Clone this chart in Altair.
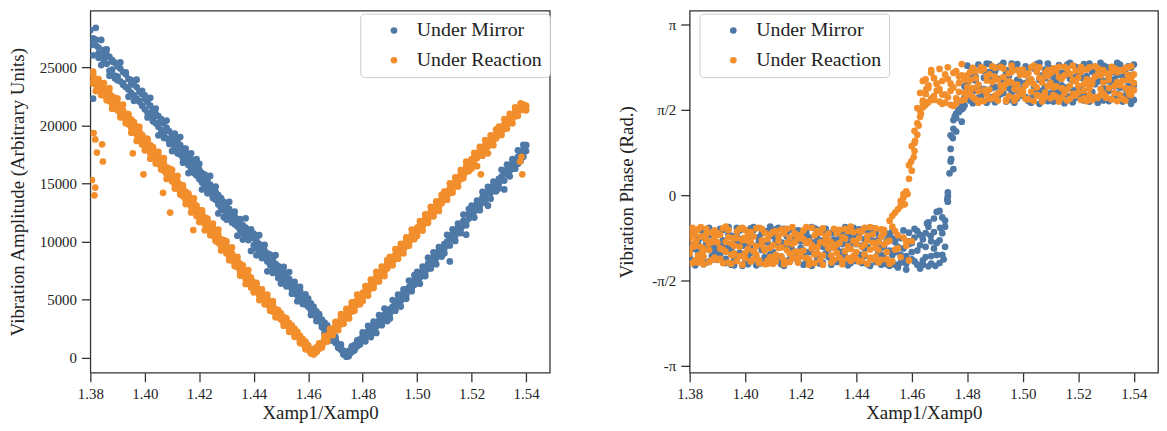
import altair as alt
import pandas as pd

SERIES = ["Under Mirror", "Under Reaction"]
COLORS = ["#4e79a7", "#f28e2b"]
FONT = "Liberation Serif"

X = [
    1.380, 1.381, 1.382, 1.383, 1.384, 1.385, 1.386, 1.387, 1.388, 1.389,
    1.390, 1.391, 1.392, 1.393, 1.394, 1.395, 1.396, 1.397, 1.398, 1.399,
    1.400, 1.401, 1.402, 1.403, 1.404, 1.405, 1.406, 1.407, 1.408, 1.409,
    1.410, 1.411, 1.412, 1.413, 1.414, 1.415, 1.416, 1.417, 1.418, 1.419,
    1.420, 1.421, 1.422, 1.423, 1.424, 1.425, 1.426, 1.427, 1.428, 1.429,
    1.430, 1.431, 1.432, 1.433, 1.434, 1.435, 1.436, 1.437, 1.438, 1.439,
    1.440, 1.441, 1.442, 1.443, 1.444, 1.445, 1.446, 1.447, 1.448, 1.449,
    1.450, 1.451, 1.452, 1.453, 1.454, 1.455, 1.456, 1.457, 1.458, 1.459,
    1.460, 1.461, 1.462, 1.463, 1.464, 1.465, 1.466, 1.467, 1.468, 1.469,
    1.470, 1.471, 1.472, 1.473, 1.474, 1.475, 1.476, 1.477, 1.478, 1.479,
    1.480, 1.481, 1.482, 1.483, 1.484, 1.485, 1.486, 1.487, 1.488, 1.489,
    1.490, 1.491, 1.492, 1.493, 1.494, 1.495, 1.496, 1.497, 1.498, 1.499,
    1.500, 1.501, 1.502, 1.503, 1.504, 1.505, 1.506, 1.507, 1.508, 1.509,
    1.510, 1.511, 1.512, 1.513, 1.514, 1.515, 1.516, 1.517, 1.518, 1.519,
    1.520, 1.521, 1.522, 1.523, 1.524, 1.525, 1.526, 1.527, 1.528, 1.529,
    1.530, 1.531, 1.532, 1.533, 1.534, 1.535, 1.536, 1.537, 1.538, 1.539, 1.540,
]

# ---- Vibration amplitude (left panel), three sweeps per series ----
MIRROR_AMP_A = [
    26900, 27500, 28400, 26700, 26100, 26500, 25300, 25900, 24800, 25400,
    24200, 24900, 23500, 24400, 23100, 23600, 22600, 23300, 22100, 22700,
    21400, 22000, 20800, 21300, 20200, 20800, 19600, 20200, 18900, 19500,
    18400, 18900, 17800, 18300, 17200, 17700, 16600, 17100, 16000, 16500,
    15400, 15900, 14800, 15300, 14200, 14600, 13600, 14000, 12900, 13400,
    12300, 12800, 11800, 12200, 11300, 11700, 10700, 11200, 10200, 10600,
    9700, 10100, 9100, 9500, 8600, 9000, 8000, 8500, 7500, 7900,
    7000, 7400, 6500, 6800, 5900, 6300, 5400, 5800, 4900, 5200,
    4400, 4700, 3800, 4000, 3200, 3300, 2500, 2800, 1900, 2100,
    1300, 1000, 700, 300, 100, 600, 500, 1100, 1000, 1600,
    1500, 2100, 2000, 2600, 2400, 3000, 2900, 3500, 3300, 3900,
    3800, 4400, 4300, 5000, 4900, 5600, 5400, 6100, 6000, 6700,
    6600, 7200, 7100, 7800, 7700, 8400, 8200, 8900, 8800, 9500,
    9400, 10000, 8300, 10600, 10500, 11200, 11100, 11800, 11700, 12400,
    12300, 12900, 12800, 13500, 13400, 14000, 13100, 14600, 14500, 15100,
    15000, 15600, 14500, 16200, 16100, 16800, 16600, 17300, 17100, 17900, 18300,
]
MIRROR_AMP_B = [
    27200, 22300, 26900, 26200, 25200, 25700, 26100, 24700, 25500, 24300,
    25100, 23800, 24600, 23300, 24000, 22800, 23500, 22300, 22900, 21700,
    22300, 21100, 21700, 20500, 21000, 19900, 20400, 19300, 19800, 18700,
    19200, 18100, 18600, 17500, 18000, 16900, 17300, 16300, 16800, 15700,
    16200, 15100, 15500, 14500, 14900, 13900, 14300, 13200, 13700, 12700,
    13100, 12100, 12500, 11500, 11900, 11000, 11400, 10500, 10900, 9200,
    10300, 9400, 9800, 8900, 9200, 8300, 8700, 7800, 8100, 7200,
    7600, 6700, 7000, 6200, 6500, 5600, 5900, 5100, 5400, 4600,
    4800, 4100, 4200, 3500, 3600, 2900, 2100, 2300, 1500, 1700,
    1600, 1200, 900, 600, 400, 300, 900, 800, 1400, 1300,
    1900, 1800, 2300, 2200, 2800, 2700, 3200, 3100, 3700, 3600,
    4200, 4100, 4700, 4600, 5300, 5200, 5900, 5800, 6400, 6300,
    7000, 6900, 7500, 7400, 8100, 8000, 8700, 8600, 9200, 9100,
    9800, 9700, 10300, 10200, 10900, 10800, 11500, 11400, 10600, 12000,
    12700, 12600, 13200, 13100, 13800, 13700, 14300, 14200, 14800, 14700,
    15400, 15300, 15900, 15800, 16500, 16300, 17000, 16700, 17600, 17300, 17800,
]
MIRROR_AMP_C = [
    28200, 26040, 27380, 25820, 27360, 25500, 26540, 24280, 25620, 24060,
    23900, 25420, 23640, 24560, 22480, 23900, 22120, 23940, 22060, 22980,
    22600, 20690, 22380, 20370, 21460, 19150, 20540, 18930, 20420, 18410,
    17800, 19300, 17600, 19000, 16800, 18000, 15900, 17600, 15900, 17100,
    16700, 14490, 15780, 14170, 15660, 13750, 14740, 12430, 13720, 12110,
    11900, 13430, 11660, 12590, 10520, 11950, 10180, 12010, 10140, 11070,
    10700, 8830, 10560, 8590, 9720, 7450, 8880, 7310, 8840, 6870,
    6400, 7830, 6160, 7390, 5520, 6550, 4880, 6110, 4640, 5470,
    5100, 3690, 4380, 3170, 3760, 2650, 3040, 2130, 2420, 1510,
    1800, 880, 1160, 340, 420, 250, 1000, 650, 1500, 1150,
    2200, 1430, 2760, 1790, 3120, 2150, 3680, 2810, 4240, 3170,
    3400, 4980, 4060, 5440, 4420, 5900, 5080, 6660, 5740, 7120,
    7400, 6380, 7860, 7040, 8620, 7700, 9080, 8060, 9540, 8720,
    9000, 10590, 9680, 11070, 10060, 11550, 10740, 12330, 11420, 12810,
    13100, 12070, 13540, 12710, 14280, 13350, 14720, 13690, 15160, 14330,
    14600, 16180, 15260, 16640, 15620, 17100, 16280, 17860, 16940, 18320, 18300,
]
REACTION_AMP_A = [
    24100, 24400, 23500, 23800, 22900, 23200, 22400, 22800, 21800, 22200,
    21300, 21700, 20700, 21000, 20100, 20500, 19400, 19900, 18800, 19200,
    18300, 18700, 17600, 18000, 17000, 17400, 16400, 16800, 15800, 16200,
    15200, 15600, 14600, 14900, 13900, 14300, 13300, 13700, 12700, 13100,
    12100, 12500, 11500, 11800, 10900, 11200, 10200, 10600, 9600, 10000,
    9000, 9400, 8400, 8700, 7800, 8100, 7100, 7500, 6500, 6900,
    6000, 6300, 5400, 5700, 4900, 5100, 4300, 4600, 3800, 4000,
    3300, 3500, 2800, 3000, 2300, 2500, 1800, 1900, 1200, 1400,
    700, 400, 300, 900, 800, 1300, 1400, 1900, 2000, 2500,
    2400, 3000, 2900, 3600, 3500, 4200, 4000, 4800, 4600, 5300,
    5200, 5800, 5700, 6400, 6300, 7000, 6800, 7500, 7400, 8100,
    8000, 8600, 8500, 9200, 9100, 9800, 9600, 10300, 10200, 10900,
    10800, 11400, 11300, 12000, 11900, 12600, 12400, 13100, 13000, 13700,
    13600, 14300, 14200, 14900, 14800, 15500, 15400, 16100, 16000, 16800,
    16700, 17300, 17200, 17800, 17700, 18300, 18200, 18800, 18700, 19300,
    19200, 19800, 19700, 20400, 20300, 20900, 20800, 21500, 21400, 21800, 21700,
]
REACTION_AMP_B = [
    24600, 23700, 24000, 23200, 23500, 22600, 23000, 22100, 22500, 21600,
    21900, 21000, 21300, 20400, 20700, 19800, 20100, 19200, 19500, 18500,
    18900, 18000, 18300, 17300, 17700, 16700, 17000, 16100, 16400, 15500,
    15800, 14900, 15200, 14200, 14600, 13600, 14000, 13000, 13300, 12400,
    12700, 11800, 12100, 11200, 11500, 10500, 10900, 9900, 10200, 9300,
    9600, 8700, 9000, 8100, 8400, 7400, 7800, 6800, 7100, 6300,
    6500, 5700, 5900, 5200, 5400, 4600, 4800, 4000, 4200, 3500,
    3600, 3000, 3100, 2500, 2600, 2000, 2100, 1400, 1500, 900,
    900, 700, 600, 500, 1100, 1100, 1700, 1600, 2300, 2200,
    2800, 2700, 3400, 3300, 3900, 3800, 4500, 4400, 5000, 4900,
    5600, 5500, 6100, 6000, 6700, 6600, 7300, 7200, 7800, 7700,
    8400, 8300, 8900, 8800, 9500, 9400, 10100, 9900, 10600, 10500,
    11200, 11100, 11700, 11600, 12300, 12200, 12900, 12700, 13400, 13300,
    14000, 13900, 14600, 14500, 15200, 15100, 15800, 15700, 16500, 16300,
    17100, 17000, 17600, 17500, 18100, 17900, 18600, 18400, 19100, 18900,
    19600, 19500, 20100, 20000, 20700, 20600, 21200, 21100, 21600, 21500, 21300,
]
REACTION_AMP_C = [
    23600, 24630, 22960, 23990, 22620, 23650, 22180, 23210, 21440, 22370,
    22300, 20700, 21790, 20190, 20980, 19380, 20280, 18670, 19870, 18360,
    17860, 18850, 17140, 18140, 16730, 17720, 16210, 17200, 15400, 16290,
    16180, 14570, 15660, 14060, 14850, 13240, 14130, 12520, 13720, 12210,
    11700, 12690, 10980, 11980, 10570, 11560, 10050, 11040, 9240, 10130,
    10020, 8410, 9500, 7900, 8690, 7080, 7970, 6360, 7560, 6050,
    5640, 6460, 4980, 5900, 4620, 5440, 4060, 4880, 3500, 4120,
    3840, 2770, 3410, 2240, 2780, 1810, 2240, 1280, 1610, 750,
    1080, 400, 750, 500, 1250, 900, 1900, 1400, 2500, 1950,
    3100, 2380, 3760, 2940, 4220, 3400, 4780, 4060, 5440, 4620,
    4900, 6180, 5360, 6740, 6020, 7400, 6580, 7860, 7040, 8420,
    8700, 7980, 9360, 8540, 9820, 9000, 10380, 9660, 11040, 10220,
    10500, 11780, 10960, 12340, 11620, 13000, 12180, 13460, 12640, 14020,
    14300, 13610, 15020, 14230, 15540, 14750, 16160, 15470, 16880, 16090,
    16300, 17650, 16500, 18150, 17400, 18750, 17600, 19150, 18300, 19650,
    19900, 19180, 20550, 19730, 21000, 20180, 21550, 20830, 21900, 21350, 21600,
]

# ---- Vibration phase (right panel), three sweeps per series ----
MIRROR_PHASE_A = [
    -0.92, -1.21, -0.66, -1.04, -0.78, -1.27, -0.85, -0.60, -1.12, -0.97,
    -0.69, -1.08, -0.83, -1.25, -0.59, -1.00, -1.19, -0.76, -0.90, -1.30,
    -1.23, -0.80, -1.06, -0.64, -0.93, -1.26, -0.70, -1.14, -0.86, -0.58,
    -0.75, -1.11, -0.91, -1.27, -0.62, -0.99, -1.18, -0.82, -0.68, -1.07,
    -0.97, -1.28, -0.73, -1.05, -0.87, -0.61, -1.16, -0.92, -1.24, -0.69,
    -1.14, -0.70, -0.96, -1.23, -0.80, -1.04, -0.59, -1.29, -0.88, -0.74,
    -0.68, -1.09, -1.25, -0.81, -0.95, -0.62, -1.17, -0.89, -1.03, -1.28,
    -0.94, -1.27, -0.72, -1.10, -0.86, -1.33, -0.79, -1.18, -1.37, -0.90,
    -1.05, -0.78, -1.28, -0.92, -1.20, -0.70, -1.31, -0.85, -0.43, -1.10,
    -0.29, -0.41, -0.47, -0.02, 0.62, 0.48, 1.50, 1.53, 1.35, 1.65,
    2.05, 1.74, 2.31, 1.92, 2.40, 1.83, 2.16, 1.70, 2.26, 1.97,
    2.28, 1.81, 2.01, 2.43, 1.72, 2.19, 1.90, 2.34, 1.78, 2.08,
    1.96, 2.37, 1.73, 2.12, 1.85, 2.29, 1.68, 2.20, 1.99, 2.42,
    1.75, 2.18, 1.91, 2.39, 2.02, 1.69, 2.27, 1.82, 2.11, 2.36,
    2.23, 1.93, 2.41, 1.76, 2.06, 1.84, 2.32, 1.70, 2.14, 1.97,
    2.10, 1.73, 2.26, 2.00, 2.43, 1.81, 2.17, 1.95, 2.37, 1.68, 2.02,
]
MIRROR_PHASE_B = [
    -1.15, -0.71, -1.29, -0.88, -0.63, -1.01, -1.24, -0.74, -0.94, -1.18,
    -1.02, -0.62, -0.95, -1.17, -0.72, -1.28, -0.87, -1.10, -0.65, -0.81,
    -0.89, -1.16, -0.61, -1.03, -1.29, -0.77, -0.98, -0.67, -1.20, -1.09,
    -1.25, -0.84, -0.60, -1.13, -0.94, -0.71, -1.22, -1.01, -0.79, -0.65,
    -0.66, -1.02, -1.19, -0.78, -1.30, -0.90, -0.64, -1.12, -0.83, -1.07,
    -0.85, -1.20, -0.63, -0.99, -1.11, -0.72, -1.26, -0.91, -0.67, -1.15,
    -1.21, -0.76, -0.93, -1.12, -0.65, -1.30, -0.84, -0.70, -1.06, -0.97,
    -1.16, -0.83, -1.30, -0.66, -1.05, -0.75, -1.24, -0.98, -1.12, -0.69,
    -0.88, -1.22, -0.66, -1.35, -0.81, -1.14, -0.58, -1.26, -0.98, -0.31,
    -0.83, -1.10, -0.95, 0.05, 1.10, 1.38, 1.17, 1.62, 1.72, 1.80,
    1.86, 2.22, 1.69, 2.11, 1.79, 2.35, 1.95, 2.42, 1.76, 2.13,
    1.71, 2.14, 2.38, 1.88, 2.24, 1.75, 2.03, 1.93, 2.41, 1.84,
    2.25, 1.80, 2.09, 1.70, 2.33, 1.94, 2.43, 1.77, 2.15, 1.87,
    2.07, 1.72, 2.30, 1.89, 1.78, 2.21, 1.98, 2.43, 1.71, 2.17,
    1.82, 2.35, 1.74, 2.19, 2.42, 1.90, 2.04, 2.28, 1.79, 2.38,
    1.88, 2.31, 1.77, 2.13, 1.86, 2.40, 1.72, 2.24, 2.01, 2.34, 1.75,
]
MIRROR_PHASE_C = [
    -0.61, -0.99, -1.26, -0.81, -1.09, -0.67, -0.91, -1.22, -0.73, -1.04,
    -1.13, -0.88, -0.64, -1.20, -0.97, -0.75, -1.29, -0.60, -1.06, -0.93,
    -0.79, -1.27, -0.94, -0.59, -1.15, -0.84, -1.01, -1.24, -0.66, -0.96,
    -1.05, -0.63, -1.19, -0.87, -1.30, -0.76, -0.92, -0.64, -1.14, -1.22,
    -0.85, -1.11, -0.68, -1.21, -0.59, -1.08, -0.80, -1.26, -0.95, -0.62,
    -0.99, -1.28, -0.82, -0.66, -1.19, -0.90, -1.13, -0.77, -1.25, -0.60,
    -0.90, -0.63, -1.14, -0.98, -1.27, -0.79, -0.61, -1.23, -0.82, -1.10,
    -1.20, -0.71, -1.02, -0.80, -1.28, -0.95, -1.10, -0.65, -1.26, -0.85,
    -1.18, -0.62, -1.02, -0.73, -1.28, -0.95, -0.50, -1.12, -0.68, -0.88,
    -1.25, -0.70, -0.58, -0.12, 0.85, 1.22, 1.42, 1.70, 1.58, 2.00,
    2.38, 1.95, 1.72, 2.18, 2.00, 1.77, 2.29, 1.88, 2.41, 1.80,
    1.99, 2.35, 1.86, 2.10, 2.30, 1.97, 2.42, 1.70, 2.12, 2.26,
    1.83, 2.06, 2.32, 1.78, 2.00, 2.41, 2.12, 1.92, 2.31, 1.73,
    2.33, 1.94, 2.09, 1.73, 2.25, 1.85, 2.40, 2.14, 1.93, 1.79,
    1.98, 2.16, 1.86, 2.36, 1.72, 2.27, 1.80, 2.09, 2.43, 1.74,
    2.36, 1.92, 2.05, 1.79, 2.21, 1.98, 2.30, 1.83, 1.75, 2.20, 2.40,
]
REACTION_PHASE_A = [
    -1.08, -0.74, -1.20, -0.63, -0.95, -1.27, -0.82, -1.01, -0.69, -1.15,
    -0.87, -1.17, -0.61, -1.04, -0.77, -1.26, -0.93, -0.67, -1.12, -0.83,
    -0.64, -0.99, -1.22, -0.76, -1.09, -0.60, -0.91, -1.27, -0.81, -1.14,
    -1.26, -0.66, -0.97, -1.13, -0.70, -0.88, -1.23, -0.59, -1.04, -0.80,
    -0.73, -1.02, -1.16, -0.85, -0.60, -1.25, -0.96, -0.69, -1.11, -0.90,
    -0.98, -1.24, -0.62, -0.91, -1.15, -0.77, -1.03, -0.66, -1.21, -0.84,
    -1.17, -0.79, -0.95, -0.60, -1.26, -1.00, -0.72, -1.13, -0.86, -0.63,
    -0.91, -1.18, -0.47, -0.38, -0.32, -0.26, -0.11, -0.05, 0.07, 0.30,
    0.45, 0.96, 1.32, 1.56, 1.70, 1.86, 2.02, 1.78, 2.15, 1.92,
    1.95, 1.68, 2.22, 1.80, 2.05, 1.64, 2.28, 1.90, 1.74, 2.12,
    2.20, 1.88, 2.34, 1.76, 2.03, 2.29, 1.73, 2.11, 1.94, 2.37,
    1.83, 2.12, 2.36, 1.96, 1.75, 2.24, 2.07, 1.79, 2.30, 1.92,
    2.31, 1.77, 2.08, 1.90, 2.38, 1.84, 2.16, 1.72, 2.25, 2.00,
    2.06, 2.33, 1.81, 2.17, 1.97, 2.36, 1.74, 2.23, 1.86, 2.10,
    1.89, 2.27, 2.04, 1.73, 2.35, 2.11, 1.80, 2.22, 1.95, 2.30,
    2.24, 1.97, 1.76, 2.33, 2.08, 1.85, 2.29, 1.74, 2.12, 2.37, 1.93,
]
REACTION_PHASE_B = [
    -0.80, -1.25, -0.90, -1.11, -0.59, -0.98, -0.71, -1.23, -0.86, -0.65,
    -1.19, -0.73, -1.00, -0.58, -1.24, -0.89, -1.07, -0.79, -0.62, -1.28,
    -1.06, -0.84, -0.68, -1.18, -0.94, -1.25, -0.62, -1.02, -1.21, -0.72,
    -0.92, -1.10, -0.75, -0.63, -1.20, -1.01, -0.78, -1.16, -0.86, -1.24,
    -1.13, -0.65, -0.88, -1.28, -0.98, -0.74, -1.07, -1.19, -0.61, -0.82,
    -0.71, -0.87, -1.19, -1.06, -0.64, -1.27, -0.80, -0.94, -0.58, -1.12,
    -0.89, -1.22, -0.67, -1.09, -0.83, -0.59, -1.18, -0.97, -1.24, -0.76,
    -0.70, -1.05, -0.84, -1.22, -0.66, -0.98, -1.14, -0.78, -0.93, -1.20,
    -0.85, 0.81, 1.11, 1.44, 1.74, 2.13, 1.71, 2.25, 1.82, 2.05,
    1.72, 2.10, 1.85, 2.35, 1.66, 1.98, 1.78, 2.18, 2.41, 1.88,
    1.99, 2.26, 1.80, 2.15, 1.91, 1.74, 2.32, 1.85, 2.22, 1.78,
    2.18, 1.87, 2.02, 2.33, 1.73, 2.09, 2.27, 1.95, 1.81, 2.21,
    1.93, 2.21, 1.76, 2.35, 2.04, 2.27, 1.82, 2.13, 1.89, 2.30,
    1.78, 1.98, 2.28, 1.72, 2.14, 1.88, 2.32, 2.01, 2.38, 1.83,
    2.16, 1.75, 1.92, 2.31, 1.84, 2.05, 2.37, 1.79, 2.20, 1.87,
    1.81, 2.19, 2.36, 1.88, 2.26, 2.02, 1.77, 2.34, 1.91, 2.15, 2.22,
]
REACTION_PHASE_C = [
    -1.00, -0.60, -0.93, -1.24, -0.76, -1.13, -0.62, -0.89, -1.19, -0.78,
    -0.70, -0.98, -1.25, -0.86, -0.64, -1.10, -0.79, -1.21, -0.95, -0.60,
    -1.16, -0.73, -0.87, -1.03, -0.61, -1.20, -0.83, -0.69, -1.26, -0.97,
    -0.68, -1.22, -0.84, -0.96, -1.27, -0.62, -1.07, -0.90, -0.72, -1.15,
    -1.04, -0.81, -0.59, -1.18, -0.92, -1.09, -0.66, -0.87, -1.28, -0.75,
    -0.83, -1.11, -0.97, -0.70, -0.88, -1.21, -0.62, -1.16, -0.99, -0.68,
    -1.05, -0.66, -1.21, -0.91, -0.75, -1.15, -0.88, -0.61, -1.01, -1.19,
    -0.64, -0.86, -1.26, -0.58, -1.00, -0.74, -0.20, 0.02, -0.85, 0.55,
    0.90, 1.18, 1.60, 1.88, 2.10, 1.66, 1.97, 2.30, 1.75, 2.05,
    2.32, 1.85, 1.70, 2.14, 1.92, 2.25, 1.68, 2.06, 2.20, 1.76,
    1.84, 2.11, 1.97, 2.28, 1.70, 2.35, 1.93, 2.19, 1.77, 2.08,
    2.34, 1.74, 1.91, 2.17, 2.05, 1.82, 2.38, 1.74, 2.03, 2.29,
    1.86, 2.02, 2.24, 2.13, 1.73, 1.98, 2.35, 2.07, 1.80, 2.19,
    2.24, 1.84, 2.00, 2.36, 1.79, 2.20, 1.95, 1.77, 2.12, 2.29,
    2.01, 2.36, 1.78, 2.13, 1.96, 1.75, 2.18, 2.33, 1.84, 2.07,
    1.79, 2.12, 2.28, 2.01, 1.73, 2.30, 2.10, 1.97, 2.35, 1.84, 2.06,
]

# ---- Off-band readings (shown in both panels) ----
MIRROR_EXTRA_X = [1.4655, 1.4668, 1.4685, 1.4702, 1.4715, 1.4728, 1.4736,
                  1.4742, 1.4748, 1.4755, 1.4768, 1.4785, 1.4795]
MIRROR_EXTRA_AMP = [2600, 2200, 1700, 1400, 1050, 600, 350, 250, 150, 500, 850, 1300, 1500]
MIRROR_EXTRA_PHASE = [-0.52, -0.75, -1.30, -0.60, -1.18, -0.08, 0.40, 0.66, 1.05, 1.45,
                      1.56, 1.60, 1.90]

REACTION_EXTRA_X = [1.3812, 1.3818, 1.3843, 1.3824, 1.3846, 1.3806, 1.3818, 1.3815,
                    1.3956, 1.3995, 1.4067, 1.4093, 1.4178, 1.5234, 1.5383, 1.5378,
                    1.5386, 1.4575, 1.4585, 1.4598, 1.4607, 1.4612, 1.4625, 1.4633,
                    1.4641, 1.4652]
REACTION_EXTRA_AMP = [19350, 18800, 18380, 17670, 16900, 15300, 14660, 13990,
                      17600, 15800, 14200, 12500, 11000, 15800, 17300, 16900,
                      15800, 1500, 1150, 850, 700, 600, 500, 650, 800, 1100]
REACTION_EXTRA_PHASE = [-0.95, -0.72, -1.18, -0.84, -1.05, -0.66, -1.22, -0.90,
                        -1.10, -0.79, -0.97, -1.14, -0.70, 2.05, 1.86, 2.21,
                        1.95, -0.17, 0.02, 0.62, 0.70, 1.00, 1.28, 1.50, 1.62, 1.95]

X_TICKS = [1.38, 1.40, 1.42, 1.44, 1.46, 1.48, 1.50, 1.52, 1.54]
AMP_TICKS = [0, 5000, 10000, 15000, 20000, 25000]
PHASE_TICKS = [-3.14159265, -1.5707963, 0, 1.5707963, 3.14159265]

for arr in [MIRROR_AMP_A, MIRROR_AMP_B, MIRROR_AMP_C,
            REACTION_AMP_A, REACTION_AMP_B, REACTION_AMP_C,
            MIRROR_PHASE_A, MIRROR_PHASE_B, MIRROR_PHASE_C,
            REACTION_PHASE_A, REACTION_PHASE_B, REACTION_PHASE_C]:
    assert len(arr) == len(X), len(arr)


def build(groups, col):
    rows = []
    for name, xs, vals in groups:
        for xv, v in zip(xs, vals):
            rows.append({"series": name, "x": xv, col: v, "idx": len(rows)})
    return pd.DataFrame(rows)


df_amp = build([
    (SERIES[0], X, MIRROR_AMP_A), (SERIES[0], X, MIRROR_AMP_B),
    (SERIES[0], X, MIRROR_AMP_C), (SERIES[0], MIRROR_EXTRA_X, MIRROR_EXTRA_AMP),
    (SERIES[1], X, REACTION_AMP_A), (SERIES[1], X, REACTION_AMP_B),
    (SERIES[1], X, REACTION_AMP_C), (SERIES[1], REACTION_EXTRA_X, REACTION_EXTRA_AMP),
], "amp")
df_phase = build([
    (SERIES[0], X, MIRROR_PHASE_A), (SERIES[0], X, MIRROR_PHASE_B),
    (SERIES[0], X, MIRROR_PHASE_C), (SERIES[0], MIRROR_EXTRA_X, MIRROR_EXTRA_PHASE),
    (SERIES[1], X, REACTION_PHASE_A), (SERIES[1], X, REACTION_PHASE_B),
    (SERIES[1], X, REACTION_PHASE_C), (SERIES[1], REACTION_EXTRA_X, REACTION_EXTRA_PHASE),
], "phase")

axis_common = dict(
    labelFont=FONT, labelFontSize=15, labelColor="#222222",
    titleFont=FONT, titleFontSize=19, titleFontWeight="normal", titleColor="#222222",
    tickColor="#333333", tickWidth=1.3, tickSize=9, domain=False, grid=False,
    labelPadding=5, labelFlush=False, labelOverlap=False,
)


def legend(x_off):
    return alt.Legend(
        title=None, orient="none", legendX=x_off, legendY=3,
        labelFont=FONT, labelFontSize=20, labelColor="#222222",
        symbolType="circle", symbolSize=45, symbolStrokeWidth=0,
        padding=7, symbolOffset=17, labelOffset=13, rowPadding=10,
        cornerRadius=4, strokeColor="#cccccc", fillColor="white",
    )


x_enc = alt.X(
    "x:Q",
    scale=alt.Scale(domain=[1.38, 1.5487], nice=False, zero=False),
    axis=alt.Axis(values=X_TICKS, format=".2f", title="Xamp1/Xamp0",
                  titlePadding=2, **axis_common),
)
color_scale = alt.Scale(domain=SERIES, range=COLORS)
DOT = 46

left = alt.Chart(df_amp).mark_circle(size=DOT, opacity=1, clip=True).encode(
    x=x_enc,
    y=alt.Y(
        "amp:Q",
        scale=alt.Scale(domain=[-1281, 29883], nice=False, zero=False),
        axis=alt.Axis(values=AMP_TICKS, format="d",
                      title="Vibration Amplitude (Arbitrary Units)",
                      minExtent=52, maxExtent=52, titlePadding=11, **axis_common),
    ),
    color=alt.Color("series:N", scale=color_scale, legend=legend(272)),
    order=alt.Order("idx:Q"),
).properties(width=463, height=365)

right = alt.Chart(df_phase).mark_circle(size=DOT, opacity=1, clip=True).encode(
    x=x_enc,
    y=alt.Y(
        "phase:Q",
        scale=alt.Scale(domain=[-3.267, 3.393], nice=False, zero=False),
        axis=alt.Axis(
            values=PHASE_TICKS,
            labelExpr="datum.value > 3 ? 'π' : datum.value > 1 ? 'π/2' : datum.value < -3 ? '-π' : datum.value < -1 ? '-π/2' : '0'",
            title="Vibration Phase (Rad.)",
            minExtent=40, maxExtent=40, titlePadding=14, **axis_common),
    ),
    color=alt.Color("series:N", scale=color_scale, legend=legend(10)),
    order=alt.Order("idx:Q"),
).properties(width=472, height=365)

chart = alt.hconcat(left, right, spacing=141, bounds="flush").resolve_legend(
    color="independent"
).properties(
    padding={"left": 0, "top": 0, "right": 0, "bottom": 0}
).configure_view(stroke="#333333", strokeWidth=1.3)

chart.save("out.html", embed_options={"renderer": "svg", "actions": False})
